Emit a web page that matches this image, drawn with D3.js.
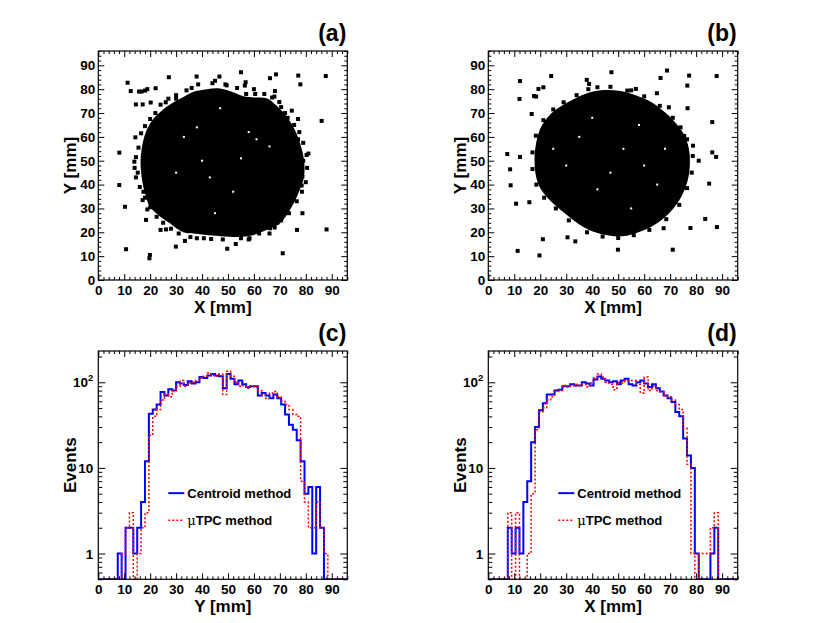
<!DOCTYPE html>
<html>
<head>
<meta charset="utf-8">
<script src="https://cdn.jsdelivr.net/npm/d3@7"></script>
<style>
  body { margin: 0; background: #fff; }
  text { font-family: "Liberation Sans", Arial, Helvetica, sans-serif; font-weight: bold; fill: #000; }
  .tick text { font-size: 13.5px; }
</style>
</head>
<body>
<div id="chart"></div>
<script>
// ---- data ----
// histogram bins: 64 bins of 1.5 mm from 0 to 96 mm
var binWidth = 1.5;
var centroidY = [0,0,0,0,0, 1,0,2,2,1, 2,4,12,43,48, 55,77,70,83,80, 100,97,93,103,97, 100,115,112,120,125,
	120,118,85,125,110, 95,105,95,88,90, 90,70,75,70,65, 72,65,55,42,32, 28,21,12,5,6, 1,6,2,0,0, 0,0,0,0];
var utpcY = [0,0,0,0,0, 0,1,2,3,0, 1,2,3,24,40, 48,62,72,68,80, 90,105,90,98,100, 105,112,118,128,120,
	118,125,72,135,118, 100,90,92,85,90, 88,80,72,65,75, 78,68,60,55,48, 42,40,7,4,2, 2,4,2,1,0, 0,0,0,0];
var centroidX = [0,0,0,0,0, 2,1,2,1,4, 7,20,30,47,57, 72,72,80,82,90, 90,95,92,92,100, 97,92,108,117,110,
	105,100,103,95,105, 110,95,92,100,105, 97,88,95,85,78, 70,65,59,45,40, 22,14,10,1,0, 0,0,1,2,0, 0,0,0,0];
var utpcX = [0,0,0,0,0, 3,0,3,0,0, 1,5,28,45,50, 62,68,78,80,92, 88,92,95,92,95, 88,98,112,125,115,
	100,95,82,100,98, 105,105,105,95,75, 115,80,90,80,78, 70,68,62,55,48, 29,11,1,0,1, 1,1,2,3,0, 0,0,0,0];

// scatter (a): outline of the dense core, ragged edge hits, isolated hits, holes  [X mm, Y mm]
var coreA = [[25,71.5],[29,74.5],[33,76.8],[37,79],[41.8,80],[46.9,80.3],[52.5,78.5],[56,77],[60,76.5],
	[64.9,76.2],[68.8,73],[72.6,68.5],[75.8,62.9],[77.8,57.3],[79.3,50.3],[79.3,43.3],[77.1,36.3],
	[73.9,29.4],[70.1,23.8],[64.9,21],[58.5,18.5],[52.1,18],[45.6,18.5],[39.2,19.2],[32.8,20],
	[27.6,23.8],[23.1,27.3],[19.9,30.7],[18,36.3],[16.7,43.3],[16.3,50.3],[17.4,58.7],[19.3,64.3],[22,68.5]];
var edgeA = [[24,73.5],[27,76],[30,77.5],[34,79.5],[38.5,82],[44,82.5],[49,82],[53.5,80.5],[57,78],
	[60.5,78],[64,78],[67,76.5],[70.5,72.5],[73,68],[75.5,65],[77.5,62],[79,57.5],[81,53],[80.5,47],
	[80,41],[78.5,37],[76.5,33],[73.5,28],[70.5,25],[68,22],[62,19.5],[58,17],[55,17.5],[48,17],
	[43.5,17.2],[38,17.5],[35.5,18],[31,19.5],[28,21.5],[25,24],[22.5,26.5],[20,30.5],[18,34.5],[16,39],
	[14.5,43],[14,47],[14.5,51.5],[15.5,55.5],[16.5,61.5],[18,64.5],[20,67.5],[22,70],[26,74.5],[21,62],
	[15.2,45],[17.4,37],[79,50],[77,59],[60,80],[45,83.5],[30,76],[36,80.5],[66,19.5],[72,70]];
var outA = [[11.3,82.7],[12.5,79.2],[14.5,73.6],[17.1,73.6],[15.7,79],[16.7,79],[18,79.4],[18.9,80],
	[20.2,74.4],[22.1,80.4],[27.2,85],[37.9,85.3],[46.7,85.3],[55,87.1],[56.8,82.9],[56.5,81.5],[49.5,81.6],
	[66.2,84.6],[68.5,86.2],[68.1,79.2],[67.9,76.9],[69.8,74.6],[77.1,85.7],[77.9,82],[74.6,71],[77,67.5],
	[86.1,66.7],[87.7,85.5],[80.3,52.4],[78.7,43.3],[78.4,39.6],[78.7,28],[76.6,21],[88,21.2],[71.1,11.2],
	[69,24],[66.2,21.7],[58.3,17.5],[53,15.1],[49.7,13.1],[40.7,17.5],[33.4,16.4],[29.9,14],[24,21],
	[26.1,21.2],[19.9,10.5],[19.7,9.1],[10.7,12.9],[10.3,30.7],[8.1,39.8],[8.1,53.4],[14.3,59.8],
	[13.9,49.6],[18.9,29.6],[17.1,33.5],[18.4,25.2]];
var holesA = [[43,43],[38,64],[33,60],[55,51],[58,62],[40,50],[52,37],[61,59],[47,72],[30,45],[66,56],[45,28]];

// scatter (b)
var coreB = [[44.3,79.6],[50.8,79.2],[57.2,77.2],[63,74.4],[68.1,70.2],[72,66],[75.2,61.2],[77.1,55.7],
	[77.6,48.9],[76.8,41.9],[74.3,34.9],[70.4,28.9],[65.4,24.1],[59.6,20.7],[53.3,18.6],[46.9,18.6],
	[40.5,20.2],[34.9,23.4],[29.2,28.2],[24.1,33],[20.3,37.9],[18.4,43.3],[17.8,50.3],[18.4,57.3],[20.3,64.1],
	[23.4,68.9],[27.2,72.3],[31.7,75.1],[37.5,78.1]];
var edgeB = [[42,80.8],[47,81],[55,79.5],[60,77],[66,73],[71,68],[74,64],[76.5,59],[78.7,52],
	[78.3,45],[76.5,38.5],[73.5,31.5],[68.5,25.5],[62,21],[56,18.8],[50,17.6],[44,18.2],[38,20],[31,25],
	[26,30],[21.5,34.5],[18.5,40],[17,46.5],[17,53.5],[18.3,60.5],[21.2,67],[25,71.5],[29,74.5],
	[34,77.5],[38.5,80]];
var outB = [[12.2,83.4],[12,75.9],[24.2,85.5],[21.2,80.8],[19.3,80.1],[17.6,77.1],[18.4,76.9],[16.7,69.6],
	[7.3,52.8],[12.2,51.6],[8.4,46.4],[8.6,39.7],[10.7,32],[15.8,32.6],[11.3,12.2],[19.7,10.3],[21,17.1],
	[30.5,17.9],[33.5,16.2],[49.9,12.7],[71,12.7],[67.5,21.7],[77.8,21.8],[83.5,25.6],[88,22.2],[85,40.4],
	[81,50],[87.7,51.6],[86.2,53.5],[86.2,66.2],[78.8,56.3],[76.7,72],[76.6,81.5],[77.3,85.7],[87.9,85.5],
	[68.8,87.8],[66.3,84.7],[64.9,78.3],[56.8,80.1],[53.5,79.4],[47.4,87.1],[37.9,83.9],[38.8,82.2],
	[69.5,72.4],[75.4,60.4]];
var holesB = [[47,45],[35,60],[58,65],[60,48],[42,38],[52,55],[30,48],[65,40],[40,68],[55,30],[25,55],[68,55]];

var xTicks = [0,10,20,30,40,50,60,70,80,90];
var logMajor = [1, 10, 100];
var legendLabels = ["Centroid method", "TPC method"];

// ---- drawing ----
var svg = d3.select("#chart").append("svg")
	.attr("width", 830)
	.attr("height", 623);

function panel(left, top) {
	return svg.append("g").attr("transform", "translate(" + left + "," + top + ")");
}

function linearAxes(g, x, y, w, h, xTitle, yTitle, id) {
	var minor = d3.range(0, 97, 2).filter(function(v){ return v % 10; });
	var ax = [
		[d3.axisBottom(x).tickValues(xTicks).tickSize(-6).tickPadding(5).tickFormat(d3.format("d")), h],
		[d3.axisBottom(x).tickValues(minor).tickSize(-3).tickFormat(""), h],
		[d3.axisTop(x).tickValues(xTicks).tickSize(-6).tickFormat(""), 0],
		[d3.axisTop(x).tickValues(minor).tickSize(-3).tickFormat(""), 0]
	];
	ax.forEach(function(a){
		g.append("g").attr("transform", "translate(0," + a[1] + ")").call(a[0].tickSizeOuter(0))
			.call(function(s){ s.select(".domain").remove(); });
	});
	if (y) {
		var ay = [
			[d3.axisLeft(y).tickValues(xTicks).tickSize(-6).tickPadding(3).tickFormat(d3.format("d")), 0],
			[d3.axisLeft(y).tickValues(minor).tickSize(-3).tickFormat(""), 0],
			[d3.axisRight(y).tickValues(xTicks).tickSize(-6).tickFormat(""), w],
			[d3.axisRight(y).tickValues(minor).tickSize(-3).tickFormat(""), w]
		];
		ay.forEach(function(a){
			g.append("g").attr("transform", "translate(" + a[1] + ",0)").call(a[0].tickSizeOuter(0))
				.call(function(s){ s.select(".domain").remove(); });
		});
	}
	g.append("text").attr("x", w / 2).attr("y", h + 33).attr("text-anchor", "middle")
		.style("font-size", "17px").text(xTitle);
	g.append("text").attr("transform", "translate(-22," + (h / 2) + ") rotate(-90)")
		.attr("text-anchor", "middle").style("font-size", "17px").text(yTitle);
	g.append("text").attr("x", w - 1).attr("y", -10).attr("text-anchor", "end")
		.style("font-size", "23px").text("(" + id + ")");
	g.append("rect").attr("width", w).attr("height", h)
		.attr("fill", "none").attr("stroke", "#000").attr("stroke-width", 1.2);
}

function scatter(left, top, w, h, core, edge, outliers, holes, id) {
	var g = panel(left, top);
	var x = d3.scaleLinear().domain([0, 96]).range([0, w]);
	var y = d3.scaleLinear().domain([0, 96]).range([h, 0]);
	g.append("path")
		.datum(core)
		.attr("d", d3.line().x(function(d){ return x(d[0]); }).y(function(d){ return y(d[1]); })
			.curve(d3.curveCatmullRomClosed))
		.attr("fill", "#000");
	g.selectAll(".hit")
		.data(edge.concat(outliers))
		.enter().append("rect")
		.attr("class", "hit")
		.attr("x", function(d){ return x(d[0]) - 2; })
		.attr("y", function(d){ return y(d[1]) - 2; })
		.attr("width", 4)
		.attr("height", 4)
		.attr("fill", "#000");
	g.selectAll(".hole")
		.data(holes)
		.enter().append("rect")
		.attr("class", "hole")
		.attr("x", function(d){ return x(d[0]) - 1; })
		.attr("y", function(d){ return y(d[1]) - 1; })
		.attr("width", 2)
		.attr("height", 2)
		.attr("fill", "#fff");
	linearAxes(g, x, y, w, h, "X [mm]", "Y [mm]", id);
}

function histo(left, top, w, h, blue, red, xTitle, id) {
	var g = panel(left, top);
	var x = d3.scaleLinear().domain([0, 96]).range([0, w]);
	var y = d3.scaleLog().domain([0.5, 232]).range([h, 0]);

	g.append("clipPath").attr("id", "clip" + id)
		.append("rect").attr("width", w).attr("height", h);

	var step = d3.line()
		.x(function(d){ return x(d[0]); })
		.y(function(d){ return y(Math.max(d[1], 0.5)); })
		.curve(d3.curveStepAfter);
	function pts(vals) {
		var p = vals.map(function(v, i){ return [i * binWidth, v]; });
		p.push([vals.length * binWidth, vals[vals.length - 1]]);
		return p;
	}
	g.append("path").datum(pts(blue)).attr("d", step)
		.attr("clip-path", "url(#clip" + id + ")")
		.attr("fill", "none").attr("stroke", "#0000ff").attr("stroke-width", 2);
	g.append("path").datum(pts(red)).attr("d", step)
		.attr("clip-path", "url(#clip" + id + ")")
		.attr("fill", "none").attr("stroke", "#ff0000").attr("stroke-width", 1.5)
		.attr("stroke-dasharray", "2,2");

	linearAxes(g, x, null, w, h, xTitle, "Events", id);

	// log axis, mirrored on the right
	var minor = [];
	[0.1, 1, 10, 100].forEach(function(dec){
		for (var k = 2; k <= 9; k++) {
			var v = k * dec;
			if (v >= 0.5 && v <= 232) minor.push(v);
		}
	});
	[[d3.axisLeft(y).tickValues(logMajor).tickSize(-7).tickFormat(""), 0],
	 [d3.axisLeft(y).tickValues(minor).tickSize(-4).tickFormat(""), 0],
	 [d3.axisRight(y).tickValues(logMajor).tickSize(-7).tickFormat(""), w],
	 [d3.axisRight(y).tickValues(minor).tickSize(-4).tickFormat(""), w]].forEach(function(a){
		g.append("g").attr("transform", "translate(" + a[1] + ",0)").call(a[0].tickSizeOuter(0))
			.call(function(s){ s.select(".domain").remove(); });
	});
	logMajor.forEach(function(v){
		var t = g.append("text").attr("x", -5).attr("y", y(v) + 5).attr("text-anchor", "end")
			.style("font-size", "13.5px");
		if (v === 100) {
			t.append("tspan").text("10");
			t.append("tspan").attr("dy", -6).style("font-size", "9.5px").text("2");
		} else {
			t.text(d3.format("d")(v));
		}
	});

	// legend
	var leg = g.append("g").attr("transform", "translate(70," + (h / 2 + 28) + ")");
	leg.append("line").attr("x1", 0).attr("x2", 16).attr("y1", 0).attr("y2", 0)
		.attr("stroke", "#0000ff").attr("stroke-width", 2);
	leg.append("text").attr("x", 19).attr("y", 5).style("font-size", "13px").text(legendLabels[0]);
	leg.append("line").attr("x1", 0).attr("x2", 16).attr("y1", 27).attr("y2", 27)
		.attr("stroke", "#ff0000").attr("stroke-width", 1.5).attr("stroke-dasharray", "2,2");
	var t2 = leg.append("text").attr("x", 19).attr("y", 32).style("font-size", "13px");
	t2.append("tspan").style("font-weight", "normal").style("font-family", "'DejaVu Serif', serif").text("\u03bc");
	t2.append("tspan").text(legendLabels[1]);
}

scatter(98.3, 51, 249, 229, coreA, edgeA, outA, holesA, "a");
scatter(488.3, 51, 249.4, 229, coreB, edgeB, outB, holesB, "b");
histo(98.3, 351, 249, 228.3, centroidY, utpcY, "Y [mm]", "c");
histo(488.3, 351, 249.4, 228.3, centroidX, utpcX, "X [mm]", "d");
</script>
</body>
</html>
